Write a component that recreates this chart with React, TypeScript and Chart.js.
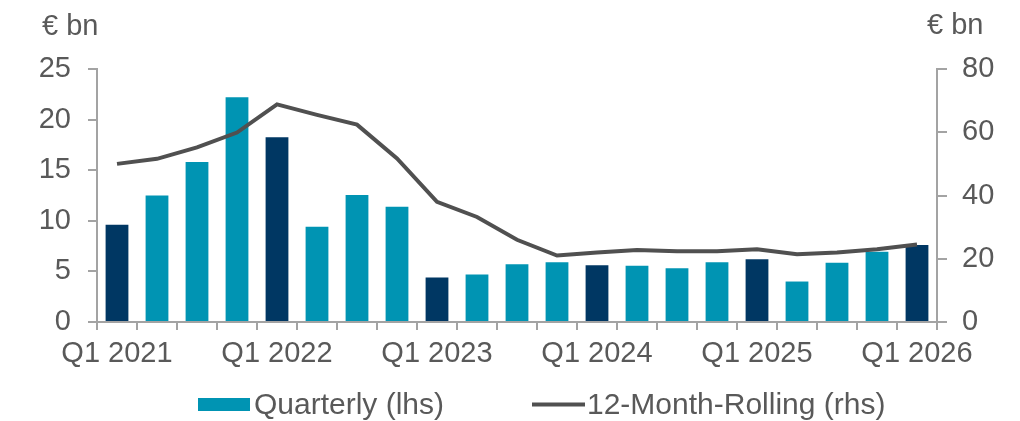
import React, { useEffect, useRef } from 'react';
import { Chart, registerables } from 'chart.js';

Chart.register(...registerables);

const categories = [
  'Q1 2021', 'Q2 2021', 'Q3 2021', 'Q4 2021',
  'Q1 2022', 'Q2 2022', 'Q3 2022', 'Q4 2022',
  'Q1 2023', 'Q2 2023', 'Q3 2023', 'Q4 2023',
  'Q1 2024', 'Q2 2024', 'Q3 2024', 'Q4 2024',
  'Q1 2025', 'Q2 2025', 'Q3 2025', 'Q4 2025',
  'Q1 2026',
];

// Quarterly volume, € bn (left axis)
const quarterly = [
  9.6, 12.5, 15.8, 22.2,
  18.25, 9.4, 12.55, 11.4,
  4.4, 4.7, 5.7, 5.9,
  5.6, 5.55, 5.3, 5.9,
  6.2, 4.0, 5.85, 6.95,
  7.6,
];

// 12-month rolling volume, € bn (right axis)
const rolling = [
  50.0, 51.6, 55.2, 59.9,
  68.8, 65.5, 62.4, 51.7,
  38.0, 33.2, 26.0, 21.0,
  22.0, 22.8, 22.4, 22.4,
  23.0, 21.4, 22.0, 23.0,
  24.5,
];

const leftTicks = [0, 5, 10, 15, 20, 25];
const rightTicks = [0, 20, 40, 60, 80];
const unitLabel = '€ bn';
const seriesNames = ['Quarterly (lhs)', '12-Month-Rolling (rhs)'];

const NAVY = '#003763';
const TEAL = '#0094b3';
const LINE = '#505050';
const TEXT = '#595959';
const AXIS = '#a3a3a3';
const FONT = "'Liberation Sans', Arial, Helvetica, sans-serif";

const overlayPlugin = {
  id: 'overlayText',
  afterDraw(chart: any) {
    const { ctx, chartArea } = chart;
    ctx.save();
    ctx.fillStyle = TEXT;
    ctx.font = `29px ${FONT}`;
    ctx.textBaseline = 'alphabetic';
    // axis unit labels
    ctx.textAlign = 'right';
    ctx.fillText(unitLabel, chartArea.left + 1.5, 35);
    ctx.textAlign = 'left';
    ctx.fillText(unitLabel, chartArea.right - 10, 34);

    // legend
    ctx.font = `30px ${FONT}`;
    ctx.fillStyle = TEAL;
    ctx.fillRect(198, 398, 52, 13);
    ctx.fillStyle = TEXT;
    ctx.textAlign = 'left';
    ctx.fillText(seriesNames[0], 254, 414);
    ctx.strokeStyle = LINE;
    ctx.lineWidth = 4;
    ctx.beginPath();
    ctx.moveTo(532, 404.5);
    ctx.lineTo(585, 404.5);
    ctx.stroke();
    ctx.fillText(seriesNames[1], 587, 414);
    ctx.restore();
  },
};

export default function App() {
  const canvasRef = useRef<HTMLCanvasElement | null>(null);

  useEffect(() => {
    document.body.style.margin = '0';
    const canvas = canvasRef.current;
    if (!canvas) return;
    const chart = new Chart(canvas, {
      type: 'bar',
      data: {
        labels: categories,
        datasets: [
          {
            type: 'line',
            label: seriesNames[1],
            data: rolling,
            yAxisID: 'y1',
            borderColor: LINE,
            backgroundColor: LINE,
            borderWidth: 4,
            pointRadius: 0,
            pointHoverRadius: 0,
            tension: 0,
            fill: false,
            order: 0,
          } as any,
          {
            type: 'bar',
            label: seriesNames[0],
            data: quarterly,
            yAxisID: 'y',
            backgroundColor: categories.map((c) => (c.startsWith('Q1') ? NAVY : TEAL)),
            borderWidth: 0,
            categoryPercentage: 0.57,
            barPercentage: 1,
            order: 1,
          },
        ],
      },
      options: {
        responsive: false,
        animation: false,
        layout: { padding: { top: 69, bottom: 39, left: 0, right: 0 } },
        plugins: {
          legend: { display: false },
          tooltip: { enabled: false },
          title: { display: false },
        },
        scales: {
          x: {
            offset: true,
            grid: {
              offset: true,
              drawOnChartArea: false,
              drawTicks: true,
              tickLength: 8,
              color: AXIS,
              lineWidth: 2,
            },
            border: { display: true, color: AXIS, width: 2 },
            ticks: {
              autoSkip: false,
              maxRotation: 0,
              minRotation: 0,
              padding: 7,
              color: TEXT,
              font: { family: FONT, size: 29 },
              callback: (_v: any, i: number) => (i % 4 === 0 ? categories[i] : ''),
            },
            afterFit: (scale: any) => {
              scale.height = 60;
            },
          },
          y: {
            position: 'left',
            min: leftTicks[0],
            max: leftTicks[leftTicks.length - 1],
            grid: {
              drawOnChartArea: false,
              drawTicks: true,
              tickLength: 9,
              color: AXIS,
              lineWidth: 2,
            },
            border: { display: true, color: AXIS, width: 2 },
            ticks: {
              stepSize: 5,
              padding: 17,
              color: TEXT,
              font: { family: FONT, size: 29 },
            },
            afterBuildTicks: (scale: any) => {
              scale.ticks = leftTicks.map((v) => ({ value: v }));
            },
            afterFit: (scale: any) => {
              scale.width = 97;
            },
          },
          y1: {
            position: 'right',
            min: rightTicks[0],
            max: rightTicks[rightTicks.length - 1],
            grid: {
              drawOnChartArea: false,
              drawTicks: true,
              tickLength: 10,
              color: AXIS,
              lineWidth: 2,
            },
            border: { display: true, color: AXIS, width: 2 },
            ticks: {
              stepSize: 20,
              padding: 15,
              color: TEXT,
              font: { family: FONT, size: 29 },
            },
            afterBuildTicks: (scale: any) => {
              scale.ticks = rightTicks.map((v) => ({ value: v }));
            },
            afterFit: (scale: any) => {
              scale.width = 83;
            },
          },
        },
      },
      plugins: [overlayPlugin],
    });
    return () => chart.destroy();
  }, []);

  return (
    <div style={{ position: 'absolute', left: 0, top: 0, width: 1020, height: 421, background: '#ffffff' }}>
      <canvas ref={canvasRef} width={1020} height={421} />
    </div>
  );
}
